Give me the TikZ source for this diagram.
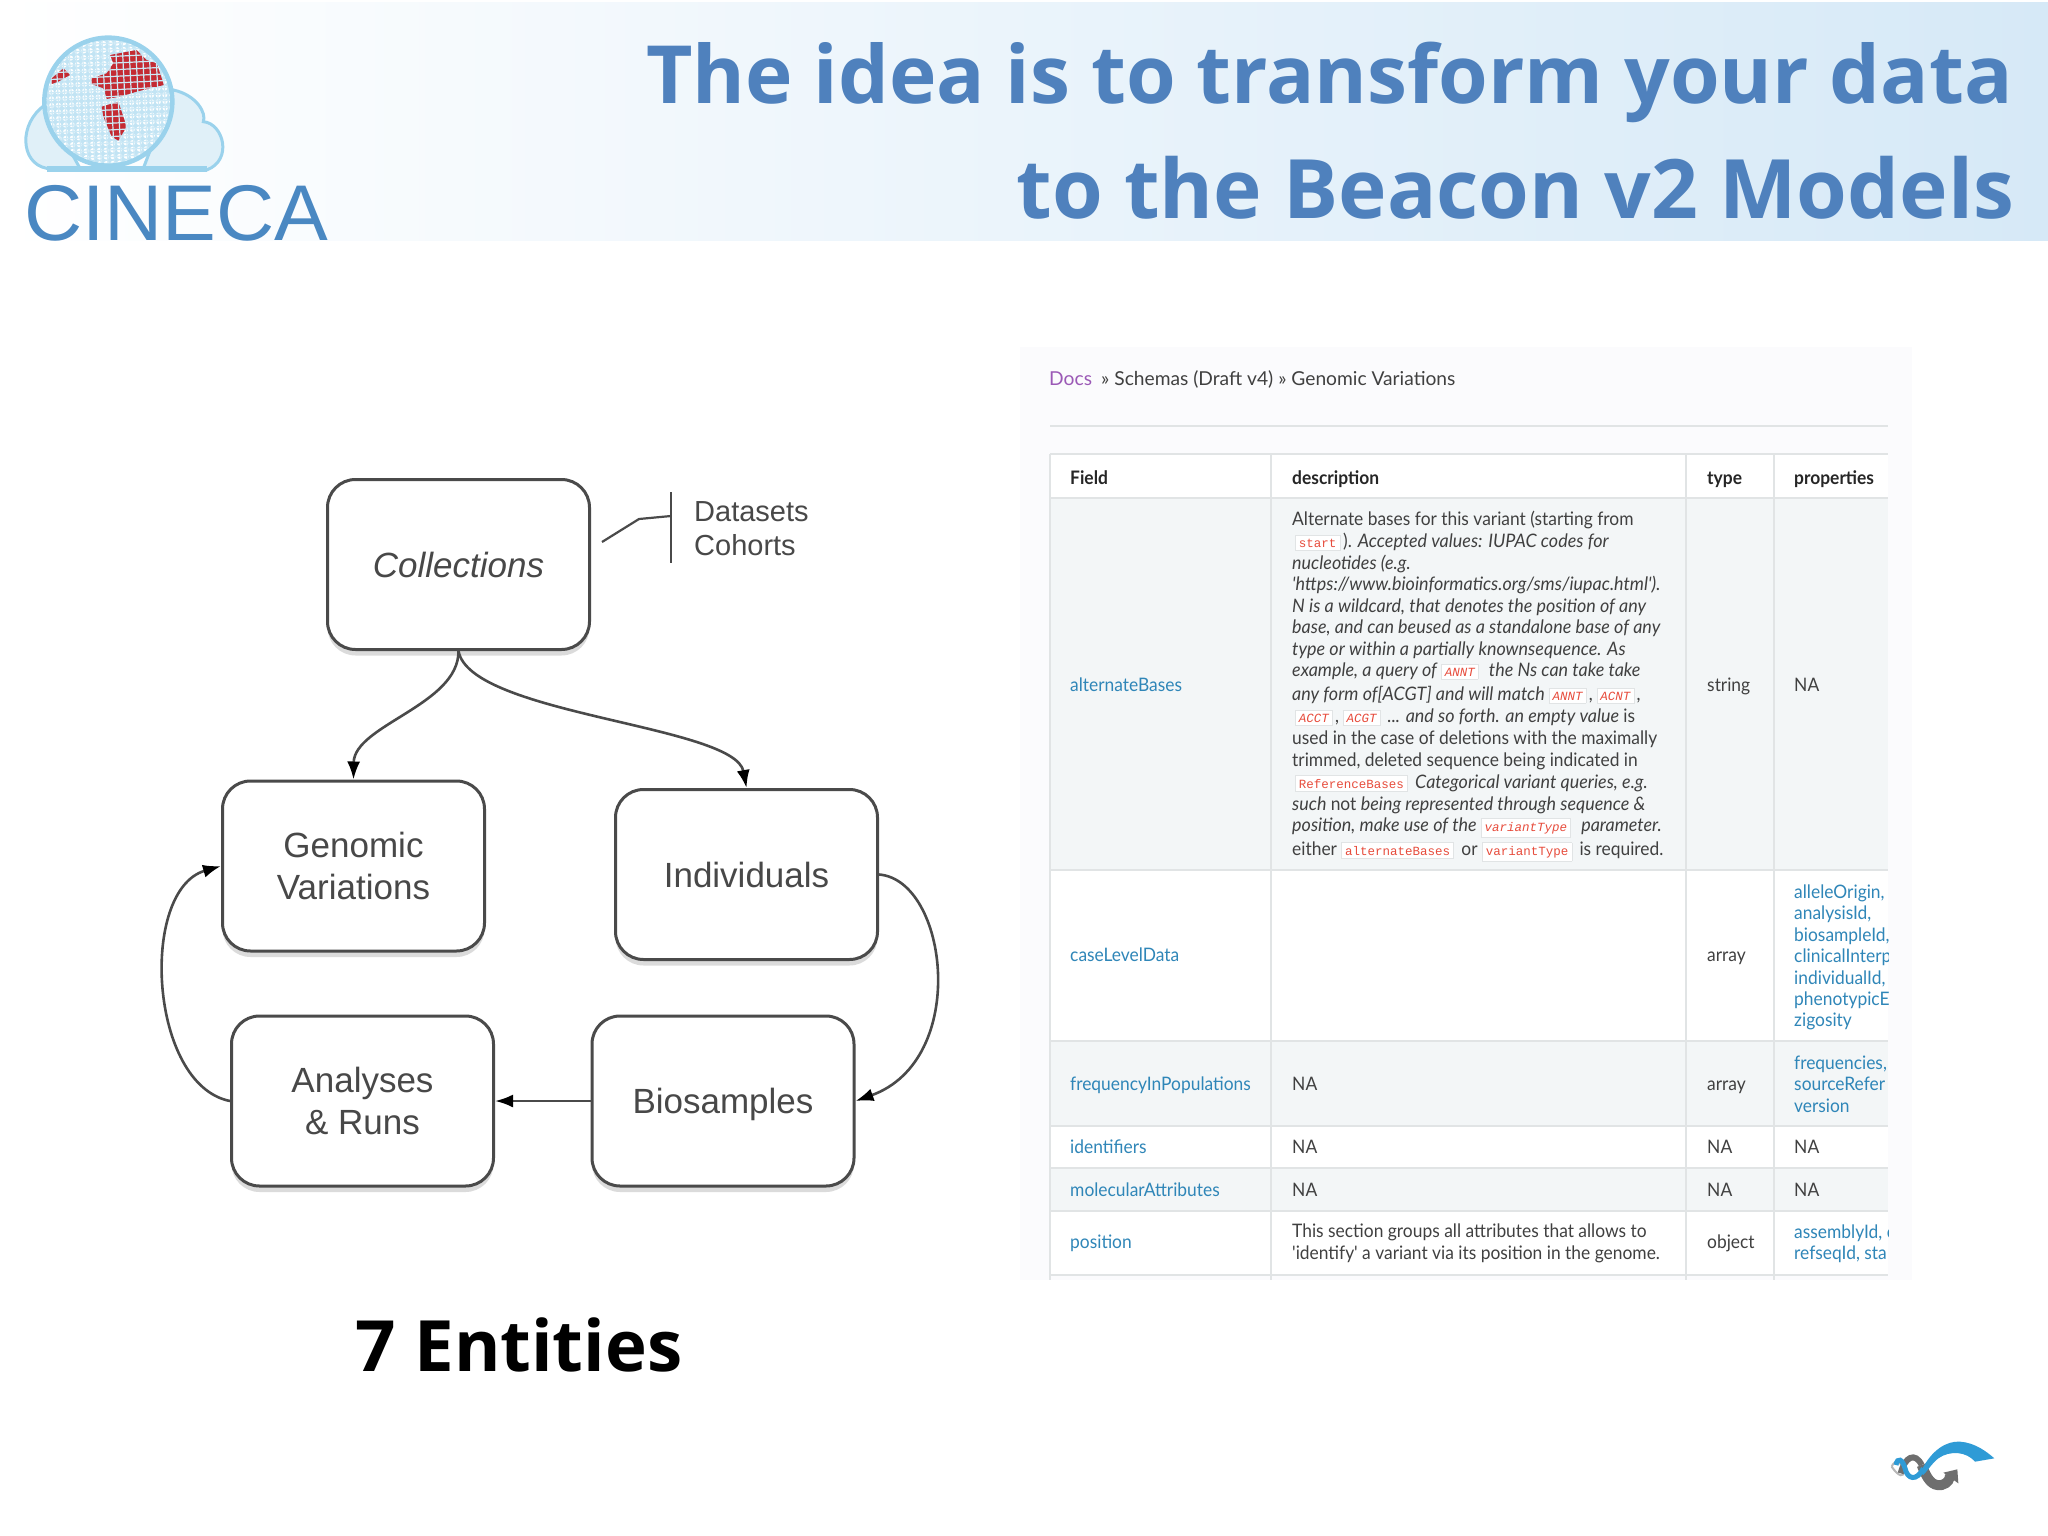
\documentclass[tikz,border=0pt]{standalone}
\usepackage{fontspec}
\setmainfont{Liberation Sans}
\newfontfamily\latofont{Lato}
\newfontfamily\latotight[FakeStretch=0.935]{Lato}
\newfontfamily\latoslant[FakeStretch=0.965]{Lato}
\newcommand{\ital}{\latoslant\itshape}
\newcommand{\rom}{\latotight\upshape}
\newfontfamily\openfont{Open Sans}
\newfontfamily\monofont{Liberation Mono}
\newfontfamily\logofont[FakeStretch=1.02]{Liberation Sans}
\usetikzlibrary{shadows,arrows.meta}
\definecolor{titleblue}{HTML}{4F81BD}
\definecolor{bandblue}{HTML}{D6E9F7}
\definecolor{panelbg}{HTML}{FBFBFD}
\definecolor{rowbg}{HTML}{F3F6F7}
\definecolor{rule}{HTML}{E1E4E5}
\definecolor{bodytext}{HTML}{404040}
\definecolor{linktext}{HTML}{2F86B8}
\definecolor{docs}{HTML}{9B59B6}
\definecolor{codered}{HTML}{E74C3C}
\definecolor{boxline}{HTML}{4A4A4A}
\definecolor{boxtext}{HTML}{484848}
\definecolor{logoblue}{HTML}{4A88C2}
\definecolor{globeblue}{HTML}{9AD2EC}
\definecolor{cloudfill}{HTML}{E0F0F8}
\definecolor{logored}{HTML}{C42B33}
\definecolor{swoosh}{HTML}{2F9BD6}
\definecolor{swooshgray}{HTML}{6E6E6E}
\newcommand{\cd}[1]{{\setlength{\fboxsep}{3.2pt}\setlength{\fboxrule}{.5pt}\fcolorbox{rule}{white}{\monofont\fontsize{12.5}{13}\selectfont\textcolor{codered}{#1}}}}
\tikzset{
  x=1pt,y=-1pt,
  flowbox/.style={draw=boxline,line width=3pt,rounded corners=28pt,fill=white,minimum width=262pt,minimum height=170pt,
    align=center,font=\fontsize{35}{42}\selectfont,text=boxtext,inner sep=0pt,
    drop shadow={opacity=.28,shadow xshift=0pt,shadow yshift=-6pt}},
  flowline/.style={draw=boxline,line width=2.6pt},
  flowarrow/.style={flowline,-{Latex[length=18pt,width=13pt,black]}},
  tline/.style={anchor=base west,inner sep=0pt,font=\latotight\fontsize{18.6}{22}\selectfont,text=bodytext},
  tlink/.style={tline,text=linktext},
  thead/.style={tline,font=\latotight\bfseries\fontsize{18.6}{22}\selectfont,text=black!85},
  ruleline/.style={draw=rule,line width=1.5pt},
}
\begin{document}
\begin{tikzpicture}
\useasboundingbox (0,0) rectangle (2048,1536);
\fill[white] (0,0) rectangle (2048,1536);
% title band
\shade[left color=white,right color=bandblue] (0,3) rectangle (2048,240);
% logo cloud
\begin{scope}[shift={(0,0)},scale=1/3]
  \filldraw[fill=cloudfill,draw=globeblue,line width=3pt]
    (140,505) .. controls (60,490) and (55,370) .. (135,315) -- (240,505) -- cycle;
  \filldraw[fill=cloudfill,draw=globeblue,line width=3pt]
    (430,505) -- (520,270) .. controls (590,285) and (620,340) .. (610,365)
    .. controls (670,370) and (700,480) .. (620,510) -- cycle;
  \draw[globeblue,line width=6pt] (140,507) -- (620,507);
  \begin{scope}
    \clip (325,305) circle (192);
    \fill[globeblue!60] (325,305) circle (192);
    \foreach \i in {0,...,20}{\foreach \j in {0,...,20}{
      \fill[white] ({135+\i*20+0.08*(\j-10)*6},{110+\j*20-0.12*(\i-10)*6}) circle (7.8);}}
    \fill[logored] (330,165) -- (410,150) -- (440,180) -- (470,190) -- (492,255) -- (410,275) -- (360,290) -- (320,297) -- (310,265) -- (275,252) -- (275,235) -- (320,220) -- (340,190) -- cycle;
    \fill[logored] (305,320) -- (355,305) -- (380,380) -- (355,422) -- (335,410) -- (310,350) -- cycle;
    \fill[logored] (155,235) -- (190,205) -- (210,225) -- (175,245) -- (155,252) -- cycle;
    \foreach \i in {0,...,20}{
      \draw[globeblue!50,line width=1.2pt] ({135+\i*20-10},100) -- ({135+\i*20+10},510);
      \draw[globeblue!50,line width=1.2pt] (120,{110+\i*20+10}) -- (530,{110+\i*20-10});}
  \end{scope}
  \draw[globeblue,line width=4.5pt] (325,305) circle (192);
\end{scope}
\node[anchor=base west,inner sep=0pt,text=logoblue,font=\logofont\fontsize{79}{80}\selectfont] (cineca) at (24,240) {CINECA};
% title
\node[anchor=base east,inner sep=0pt,text=titleblue,font=\openfont\bfseries\fontsize{80.3}{90}\selectfont] (title1) at (2013,104) {The idea is to transform your data};
\node[anchor=base east,inner sep=0pt,text=titleblue,font=\openfont\bfseries\fontsize{82}{90}\selectfont] (title2) at (2014,218) {to the Beacon v2 Models};
% flow diagram
\node[flowbox,font=\itshape\fontsize{35}{42}\selectfont] (coll) at (458.5,564.5) {Collections};
\node[flowbox] (gen) at (353.5,866) {Genomic\\Variations};
\node[flowbox] (ind) at (746.5,874.5) {Individuals};
\node[flowbox] (ana) at (362.5,1101) {Analyses\\\& Runs};
\node[flowbox] (bio) at (723,1101) {\raisebox{-3pt}[\height][\depth]{Biosamples}};
\draw[flowarrow] (coll.south) .. controls (459,705) and (354,725) .. (gen.north);
\draw[flowarrow] (coll.south) .. controls (470,715) and (735,725) .. (ind.north);
\draw[flowarrow] (ind.east) .. controls (948,880) and (970,1060) .. (bio.east);
\draw[flowarrow] (bio.west) -- (ana.east);
\draw[flowarrow] (ana.west) .. controls (149,1085) and (139,890) .. (gen.west);
\coordinate (brt) at (671,492);
\coordinate (brb) at (671,563);
\coordinate (brm) at (671,516);
\coordinate (brk) at (639,519);
\coordinate (brs) at (602,542);
\draw[boxline,line width=2.2pt] (brt) -- (brb);
\draw[boxline,line width=2.2pt] (brm) -- (brk) -- (brs);
\node[anchor=base west,inner sep=0pt,text=boxtext,font=\fontsize{29}{34}\selectfont] (dsets) at (694,521) {Datasets};
\node[anchor=base west,inner sep=0pt,text=boxtext,font=\fontsize{29}{34}\selectfont] (cohorts) at (694,555) {Cohorts};
\node[anchor=base,inner sep=0pt,text=black,font=\openfont\bfseries\fontsize{70.8}{76}\selectfont] (seven) at (519,1371) {7 Entities};
% panel
\fill[panelbg] (1020,347) rectangle (1912,1280);
\fill[white] (1050,454) rectangle (1888,498);
\fill[rowbg] (1050,498) rectangle (1888,870);
\fill[white] (1050,870) rectangle (1888,1041);
\fill[rowbg] (1050,1041) rectangle (1888,1126);
\fill[white] (1050,1126) rectangle (1888,1168);
\fill[rowbg] (1050,1168) rectangle (1888,1211);
\fill[white] (1050,1211) rectangle (1888,1275);
\foreach \yy in {454,498,870,1041,1126,1168,1211,1275}{\draw[ruleline] (1050,\yy) -- (1888,\yy);}
\foreach \xx in {1050,1271,1686,1774}{\draw[ruleline] (\xx,454) -- (\xx,1280);}
\draw[ruleline] (1050,426) -- (1888,426);
% breadcrumb
\node[tline,text=docs,font=\latofont\fontsize{19.2}{22}\selectfont] (docs) at (1049,385) {Docs};
\node[tline,font=\latofont\fontsize{19.2}{22}\selectfont] (crumb) at (1101,385) {» Schemas (Draft v4) » Genomic Variations};
% header
\node[thead] (hfield) at (1070,484) {Field};
\node[thead] (hdesc) at (1292,484) {description};
\node[thead] (htype) at (1707,484) {type};
\node[thead] (hprop) at (1794,484) {properties};
% description
\node[tline] (d1) at (1292,525) {Alternate bases for this variant (starting from};
\node[tline] (d2) at (1292,547) {\hspace{3pt}\cd{start}\,). \ital Accepted values: IUPAC codes for};
\node[tline] (d3) at (1292,569) {\ital nucleotides (e.g.};
\node[tline] (d4) at (1292,590) {\ital 'https://www.bioinformatics.org/sms/iupac.html').};
\node[tline] (d5) at (1292,612) {\ital N is a wildcard, that denotes the position of any};
\node[tline] (d6) at (1292,633) {\ital base, and can beused as a standalone base of any};
\node[tline] (d7) at (1292,655) {\ital type or within a partially knownsequence. As};
\node[tline] (d8) at (1292,676) {\ital example, a query of \cd{ANNT}\,\, the Ns can take take};
\node[tline] (d9) at (1292,700) {\ital any form of[ACGT] and will match \cd{ANNT}\,,\,\cd{ACNT}\,,};
\node[tline] (d10) at (1292,722) {\ital \hspace{3pt}\cd{ACCT}\,,\,\cd{ACGT}\, ... and so forth. an empty value \rom is};
\node[tline] (d11) at (1292,744) {used in the case of deletions with the maximally};
\node[tline] (d12) at (1292,766) {trimmed, deleted sequence being indicated in};
\node[tline] (d13) at (1292,788) {\hspace{3pt}\cd{ReferenceBases}\, \ital Categorical variant queries, e.g.};
\node[tline] (d14) at (1292,810) {\ital such \rom not \ital being represented through sequence \&};
\node[tline] (d15) at (1292,831) {\ital position, make use of the \cd{variantType}\,\, parameter.};
\node[tline] (d16) at (1292,855) {either \cd{alternateBases}\, or \cd{variantType}\, is required.};
% field names
\node[tlink] (f1) at (1070,691) {alternateBases};
\node[tlink] (f2) at (1070,961) {caseLevelData};
\node[tlink] (f3) at (1070,1090) {frequencyInPopulations};
\node[tlink] (f4) at (1070,1153) {identifiers};
\node[tlink] (f5) at (1070,1196) {molecularAttributes};
\node[tlink] (f6) at (1070,1248) {position};
% description others
\node[tline] (n3) at (1292,1090) {NA};
\node[tline] (n4) at (1292,1153) {NA};
\node[tline] (n5) at (1292,1196) {NA};
\node[tline] (p1) at (1292,1237) {This section groups all attributes that allows to};
\node[tline] (p2) at (1292,1259) {'identify' a variant via its position in the genome.};
% types
\node[tline] (t1) at (1707,691) {string};
\node[tline] (t2) at (1707,961) {array};
\node[tline] (t3) at (1707,1090) {array};
\node[tline] (t4) at (1707,1153) {NA};
\node[tline] (t5) at (1707,1196) {NA};
\node[tline] (t6) at (1707,1248) {object};
% properties
\begin{scope}
\clip (1775,498) rectangle (1888,1280);
\node[tline] (r1) at (1794,691) {NA};
\node[tlink] (c1) at (1794,898) {alleleOrigin,};
\node[tlink] (c2) at (1794,919) {analysisId,};
\node[tlink] (c3) at (1794,941) {biosampleId,};
\node[tlink] (c4) at (1794,962) {clinicalInterp};
\node[tlink] (c5) at (1794,984) {individualId,};
\node[tlink] (c6) at (1794,1005) {phenotypicE};
\node[tlink] (c7) at (1794,1026) {zigosity};
\node[tlink] (q1) at (1794,1069) {frequencies,};
\node[tlink] (q2) at (1794,1090) {sourceRefer};
\node[tlink] (q3) at (1794,1112) {version};
\node[tline] (r4) at (1794,1153) {NA};
\node[tline] (r5) at (1794,1196) {NA};
\node[tlink] (s1) at (1794,1238) {assemblyId, c};
\node[tlink] (s2) at (1794,1259) {refseqId, sta};
\end{scope}
% small logo
\begin{scope}[shift={(1860,1420)},scale=1/3]
  \draw[swooshgray!50,line width=2pt] (95,140) .. controls (105,115) and (125,125) .. (130,150) .. controls (135,175) and (115,170) .. (95,140);
  \draw[swooshgray,line width=6pt] (122,160) .. controls (135,110) and (165,95) .. (185,135);
  \draw[swooshgray,line width=10pt] (185,135) .. controls (200,175) and (215,200) .. (245,195) .. controls (265,190) and (270,175) .. (270,165);
  \fill[swooshgray] (250,158) -- (292,148) -- (295,190) -- cycle;
  \draw[swoosh,line width=5pt] (108,135) .. controls (112,110) and (128,118) .. (135,145) .. controls (142,178) and (170,185) .. (190,145);
  \fill[swoosh] (185,150) .. controls (215,90) and (260,62) .. (300,65) .. controls (345,68) and (380,95) .. (403,115) -- (345,125) .. controls (320,95) and (270,90) .. (235,115) .. controls (215,130) and (205,150) .. (190,165) -- cycle;
\end{scope}
\end{tikzpicture}
\end{document}
